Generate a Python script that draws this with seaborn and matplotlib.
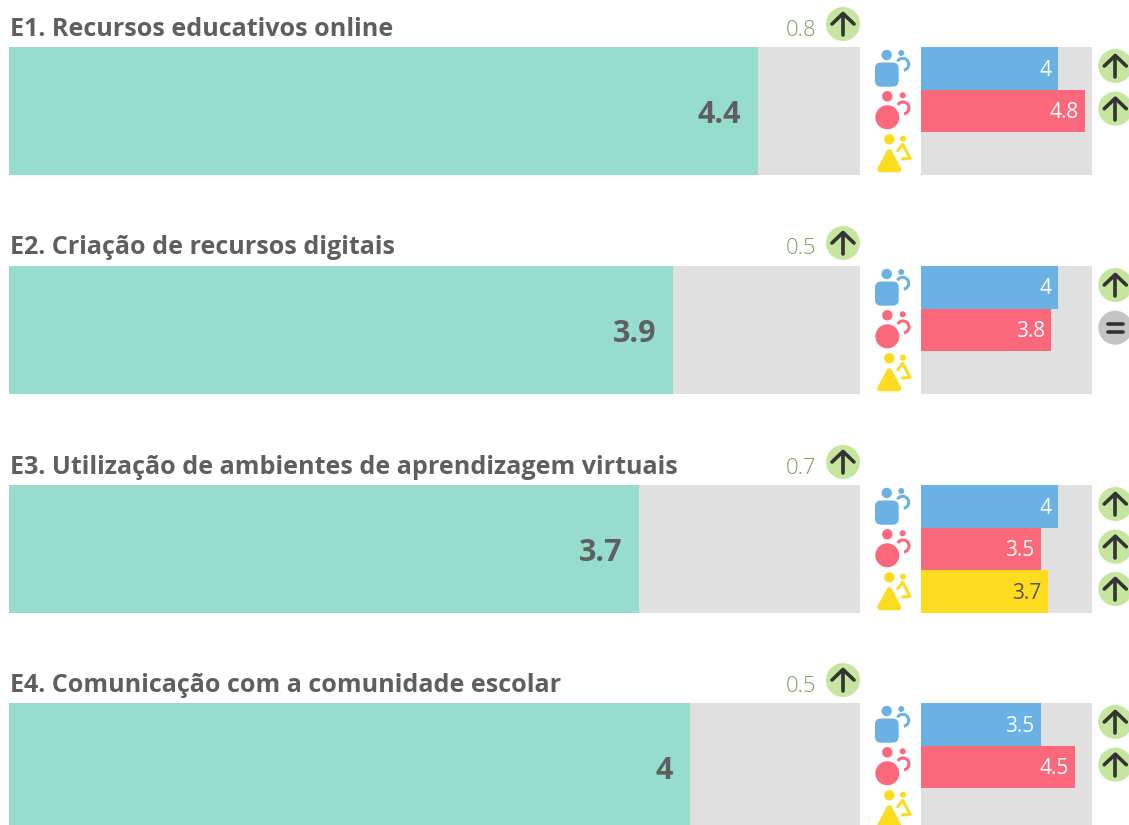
import numpy as np
import pandas as pd
import matplotlib
matplotlib.use("Agg")
import matplotlib.pyplot as plt
from matplotlib.patches import Circle, FancyBboxPatch, Polygon, Arc
import seaborn as sns

# data
titles = ["E1. Recursos educativos online", "E2. Criação de recursos digitais",
          "E3. Utilização de ambientes de aprendizagem virtuais", "E4. Comunicação com a comunidade escolar"]
overall = [4.4, 3.9, 3.7, 4.0]
overall_change = [0.8, 0.5, 0.7, 0.5]
groups = ["blue", "pink", "yellow"]
blue_values = [4.0, 4.0, 4.0, 3.5]
pink_values = [4.8, 3.8, 3.5, 4.5]
yellow_values = [np.nan, np.nan, 3.7, np.nan]
blue_trend = ["up", "up", "up", "up"]
pink_trend = ["up", "eq", "up", "up"]
yellow_trend = [None, None, "up", None]

GREY = "#E0E0E0"
TEAL = "#96DDCE"
TEXT = "#5F5F5F"
colors = {"blue": "#6AB2E3", "pink": "#FC687B", "yellow": "#FDDB1E"}

W, H = 1129, 825
panel_tops = [47, 266, 485, 703]
PANEL_H = 128

sns.set_theme(style="white")
plt.rcParams["font.family"] = ["Open Sans", "DejaVu Sans"]

fig = plt.figure(figsize=(W / 100, H / 100), dpi=100)


def px_axes(x0, x1, top):
    # axes placed in pixel coordinates, the last row runs off the figure
    ax = fig.add_axes([x0 / W, 1 - (top + PANEL_H) / H, (x1 - x0) / W, PANEL_H / H])
    ax.set_facecolor(GREY)
    return ax


def clean(ax):
    ax.set_xlim(0, 5)
    ax.set_xlabel("")
    ax.set_ylabel("")
    ax.set_xticks([])
    ax.set_yticks([])
    sns.despine(ax=ax, left=True, bottom=True)


for i, top in enumerate(panel_tops):
    # main bar
    ax = px_axes(9, 860, top)
    df = pd.DataFrame({"name": [titles[i]], "value": [overall[i]]})
    sns.barplot(data=df, x="value", y="name", color=TEAL, saturation=1, width=1, linewidth=0, ax=ax)
    clean(ax)
    ax.annotate(f"{overall[i]:g}", (overall[i], 0), xytext=(-12, -2.7), textcoords="offset points",
                ha="right", va="center", fontsize=22, fontweight="bold", color=TEXT)

    # small bars per group
    ax2 = px_axes(921, 1092, top)
    df2 = pd.DataFrame({"group": groups, "value": [blue_values[i], pink_values[i], yellow_values[i]]})
    sns.barplot(data=df2, x="value", y="group", hue="group", order=groups, hue_order=groups,
                palette=colors, saturation=1, width=1, dodge=False, legend=False, linewidth=0, ax=ax2)
    clean(ax2)
    for j, g in enumerate(groups):
        v = df2["value"][j]
        if np.isnan(v):
            continue
        ax2.annotate(f"{v:g}", (v, j), xytext=(-4.3, -1.2), textcoords="offset points", ha="right",
                     va="center", fontsize=15, fontweight="normal",
                     color="#555555" if g == "yellow" else "white")

# overlay in pixel coordinates for titles, badges and icons
ov = fig.add_axes([0, 0, 1, 1], zorder=10)
ov.set_xlim(0, W)
ov.set_ylim(H, 0)
ov.axis("off")
ov.patch.set_alpha(0)


def badge(x, y, kind):
    ov.add_patch(Circle((x, y), 17, color="#C5E69F" if kind == "up" else "#C4C4C4", lw=0))
    if kind == "up":
        ov.plot([x, x], [y - 10, y + 11], color="#333333", lw=2.6, solid_capstyle="round")
        ov.plot([x - 11, x, x + 11], [y, y - 10.5, y], color="#333333", lw=2.6,
                solid_capstyle="round", solid_joinstyle="round")
    else:
        for d in (-3.8, 3.8):
            ov.plot([x - 7.5, x + 7.5], [y + d, y + d], color="#333333", lw=2.6, solid_capstyle="round")


def icon_blue(top):
    c = colors["blue"]
    ov.add_patch(Circle((886.7, top + 8), 5.2, color=c, lw=0))
    ov.add_patch(Circle((901.3, top + 6), 3, color=c, lw=0))
    ov.add_patch(FancyBboxPatch((881, top + 21.5), 11.7, 12.2, boxstyle="round,pad=6,rounding_size=6",
                                color=c, lw=0))
    ov.add_patch(Arc((902.7, top + 17.3), 12, 12, theta1=-150, theta2=80, color=c, lw=2.2))


def icon_pink(top):
    c = colors["pink"]
    ov.add_patch(Circle((887.3, top + 49.3), 5.2, color=c, lw=0))
    ov.add_patch(Circle((902.7, top + 48.3), 3, color=c, lw=0))
    ov.add_patch(Circle((887.3, top + 70.3), 12, color=c, lw=0))
    ov.add_patch(Arc((903, top + 61), 12, 12, theta1=-150, theta2=80, color=c, lw=2.2))


def icon_yellow(top):
    c = colors["yellow"]
    ov.add_patch(Circle((889.3, top + 92.3), 5.2, color=c, lw=0))
    ov.add_patch(Circle((903, top + 91.7), 3, color=c, lw=0))
    ov.add_patch(Polygon([(889.3, top + 105), (880, top + 122.5), (898.5, top + 122.5)], closed=True,
                         facecolor=c, edgecolor=c, lw=4, joinstyle="round"))
    ov.plot([897.7, 902.7, 910, 902.3], [top + 103.7, top + 97.3, top + 111.3, top + 112], color=c,
            lw=2.2, solid_capstyle="round", solid_joinstyle="round")


for i, top in enumerate(panel_tops):
    ov.text(10, top - 18, titles[i], ha="left", va="center", fontsize=18.1, fontweight="bold", color=TEXT)
    ov.text(816, top - 17, f"{overall_change[i]:g}", ha="right", va="center", fontsize=16,
            fontweight="light", color="#7F9F5C")
    badge(843, top - 23, "up")
    icon_blue(top)
    icon_pink(top)
    icon_yellow(top)
    for trend, off in zip((blue_trend[i], pink_trend[i], yellow_trend[i]), (19, 61.7, 104)):
        if trend:
            badge(1115.3, top + off, trend)

plt.savefig("out.png", dpi=100)
